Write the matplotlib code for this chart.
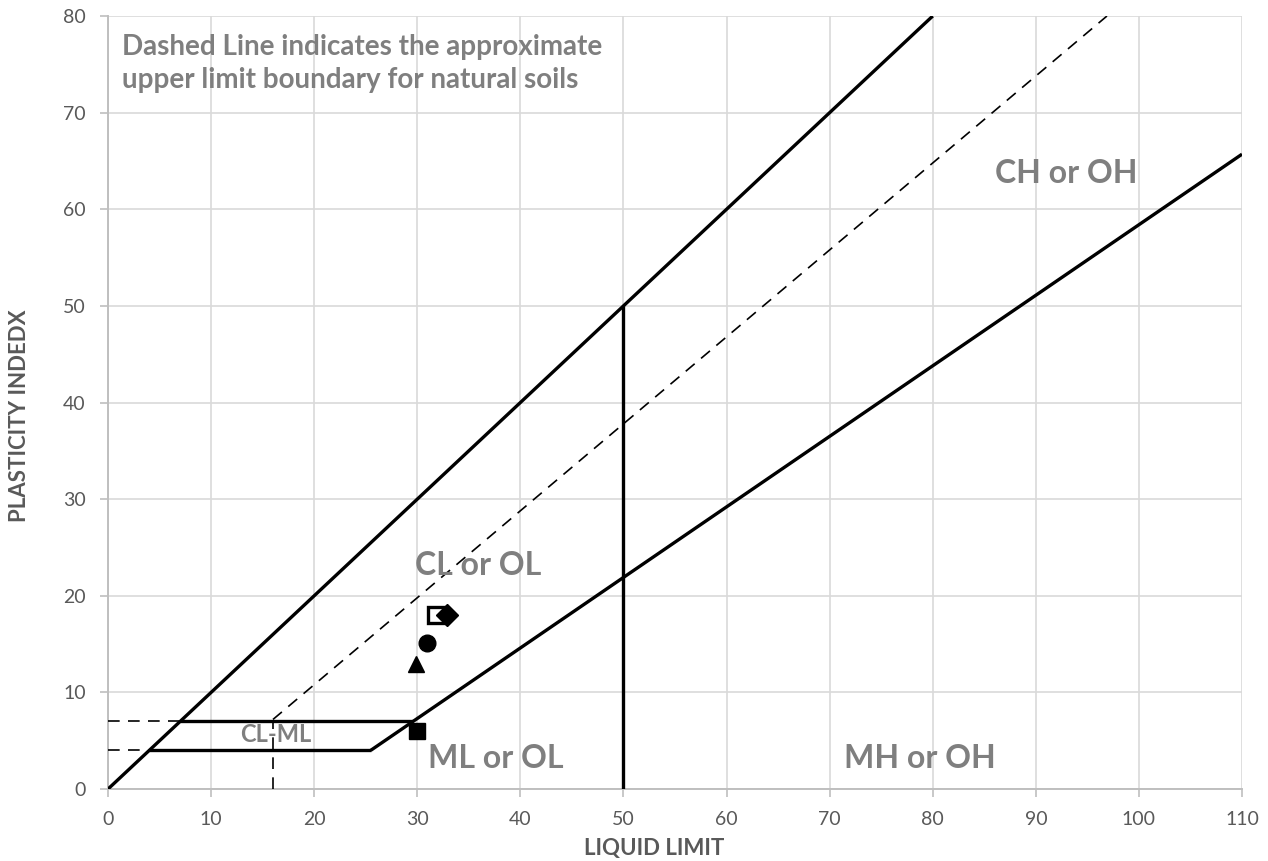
import numpy as np
import matplotlib.pyplot as plt

plt.rcParams['font.family'] = ['Lato', 'DejaVu Sans']

# boundary lines (liquid limit, plasticity index)
u_line_ll = [0, 80]
u_line_pi = [0, 80]
a_line_ll = [25.48, 110]
a_line_pi = [4, 65.7]
clml_top_ll = [7, 29.6]
clml_top_pi = [7, 7]
clml_bot_ll = [4, 25.48]
clml_bot_pi = [4, 4]
ll50_ll = [50, 50]
ll50_pi = [0, 50]

# dashed upper limit + guide lines
upper_ll = [16, 96.9]
upper_pi = [7.2, 80]
guide7_ll = [0, 7]
guide7_pi = [7, 7]
guide4_ll = [0, 4]
guide4_pi = [4, 4]
guide16_ll = [16, 16]
guide16_pi = [0, 7]

# samples
samples_ll = [30, 29.9, 30.9, 31.8, 32.9]
samples_pi = [6, 12.9, 15.1, 18, 18]
samples_marker = ['s', '^', 'o', 's', 'D']
samples_fill = ['black', 'black', 'black', 'white', 'black']

fig = plt.figure(figsize=(12.68, 8.61), dpi=100)
ax = fig.add_axes([0.0852, 0.0836, 0.8943, 0.8978])

lw = 2.4
for xs, ys in [(u_line_ll, u_line_pi), (a_line_ll, a_line_pi),
               (clml_top_ll, clml_top_pi), (clml_bot_ll, clml_bot_pi),
               (ll50_ll, ll50_pi)]:
    ax.plot(xs, ys, color='black', linewidth=lw, solid_capstyle='butt', zorder=3)

for xs, ys in [(upper_ll, upper_pi), (guide7_ll, guide7_pi),
               (guide4_ll, guide4_pi), (guide16_ll, guide16_pi)]:
    ax.plot(xs, ys, color='black', linewidth=1.2, linestyle=(0, (7, 5)), zorder=3)

for x, y, m, f in zip(samples_ll, samples_pi, samples_marker, samples_fill):
    ms = 11 if m == 'D' else 12
    if f == 'white':
        ms = 11
    ax.plot(x, y, marker=m, markersize=ms, markerfacecolor=f,
            markeredgecolor='black', markeredgewidth=2.4 if f == 'white' else 1,
            linestyle='none', zorder=4)

lab = dict(color='#7f7f7f', fontweight='bold', fontsize=23)
ax.text(29.8, 22.2, 'CL or OL', **lab)
ax.text(86.0, 62.7, 'CH or OH', **lab)
ax.text(31.0, 2.2, 'ML or OL', **lab)
ax.text(71.4, 2.2, 'MH or OH', **lab)
ax.text(12.8, 5.6, 'CL-ML', va='center', color='#7f7f7f', fontweight='bold', fontsize=17)
ax.text(1.4, 78.1, 'Dashed Line indicates the approximate\nupper limit boundary for natural soils',
        va='top', color='#7f7f7f', fontweight='bold', fontsize=20, linespacing=1.3)

ax.set_xlim(0, 110)
ax.set_ylim(0, 80)
ax.set_xticks(np.arange(0, 111, 10))
ax.set_yticks(np.arange(0, 81, 10))
ax.grid(color='#d9d9d9', linewidth=1.2)
ax.set_axisbelow(True)
for s in ['top', 'right']:
    ax.spines[s].set_visible(False)
for s in ['left', 'bottom']:
    ax.spines[s].set_color('#bfbfbf')
    ax.spines[s].set_linewidth(1.4)
    ax.spines[s].set_zorder(2)
ax.tick_params(colors='#bfbfbf', labelcolor='#595959', labelsize=14, length=6, width=1.2, pad=10)

ax.set_xlabel('LIQUID LIMIT', color='#595959', fontweight='bold', fontsize=16)
ax.set_ylabel('PLASTICITY INDEDX', color='#595959', fontweight='bold', fontsize=16)
ax.xaxis.set_label_coords(0.482, -0.063)
ax.yaxis.set_label_coords(-0.069, 0.483)

fig.savefig('out.png', dpi=100)
